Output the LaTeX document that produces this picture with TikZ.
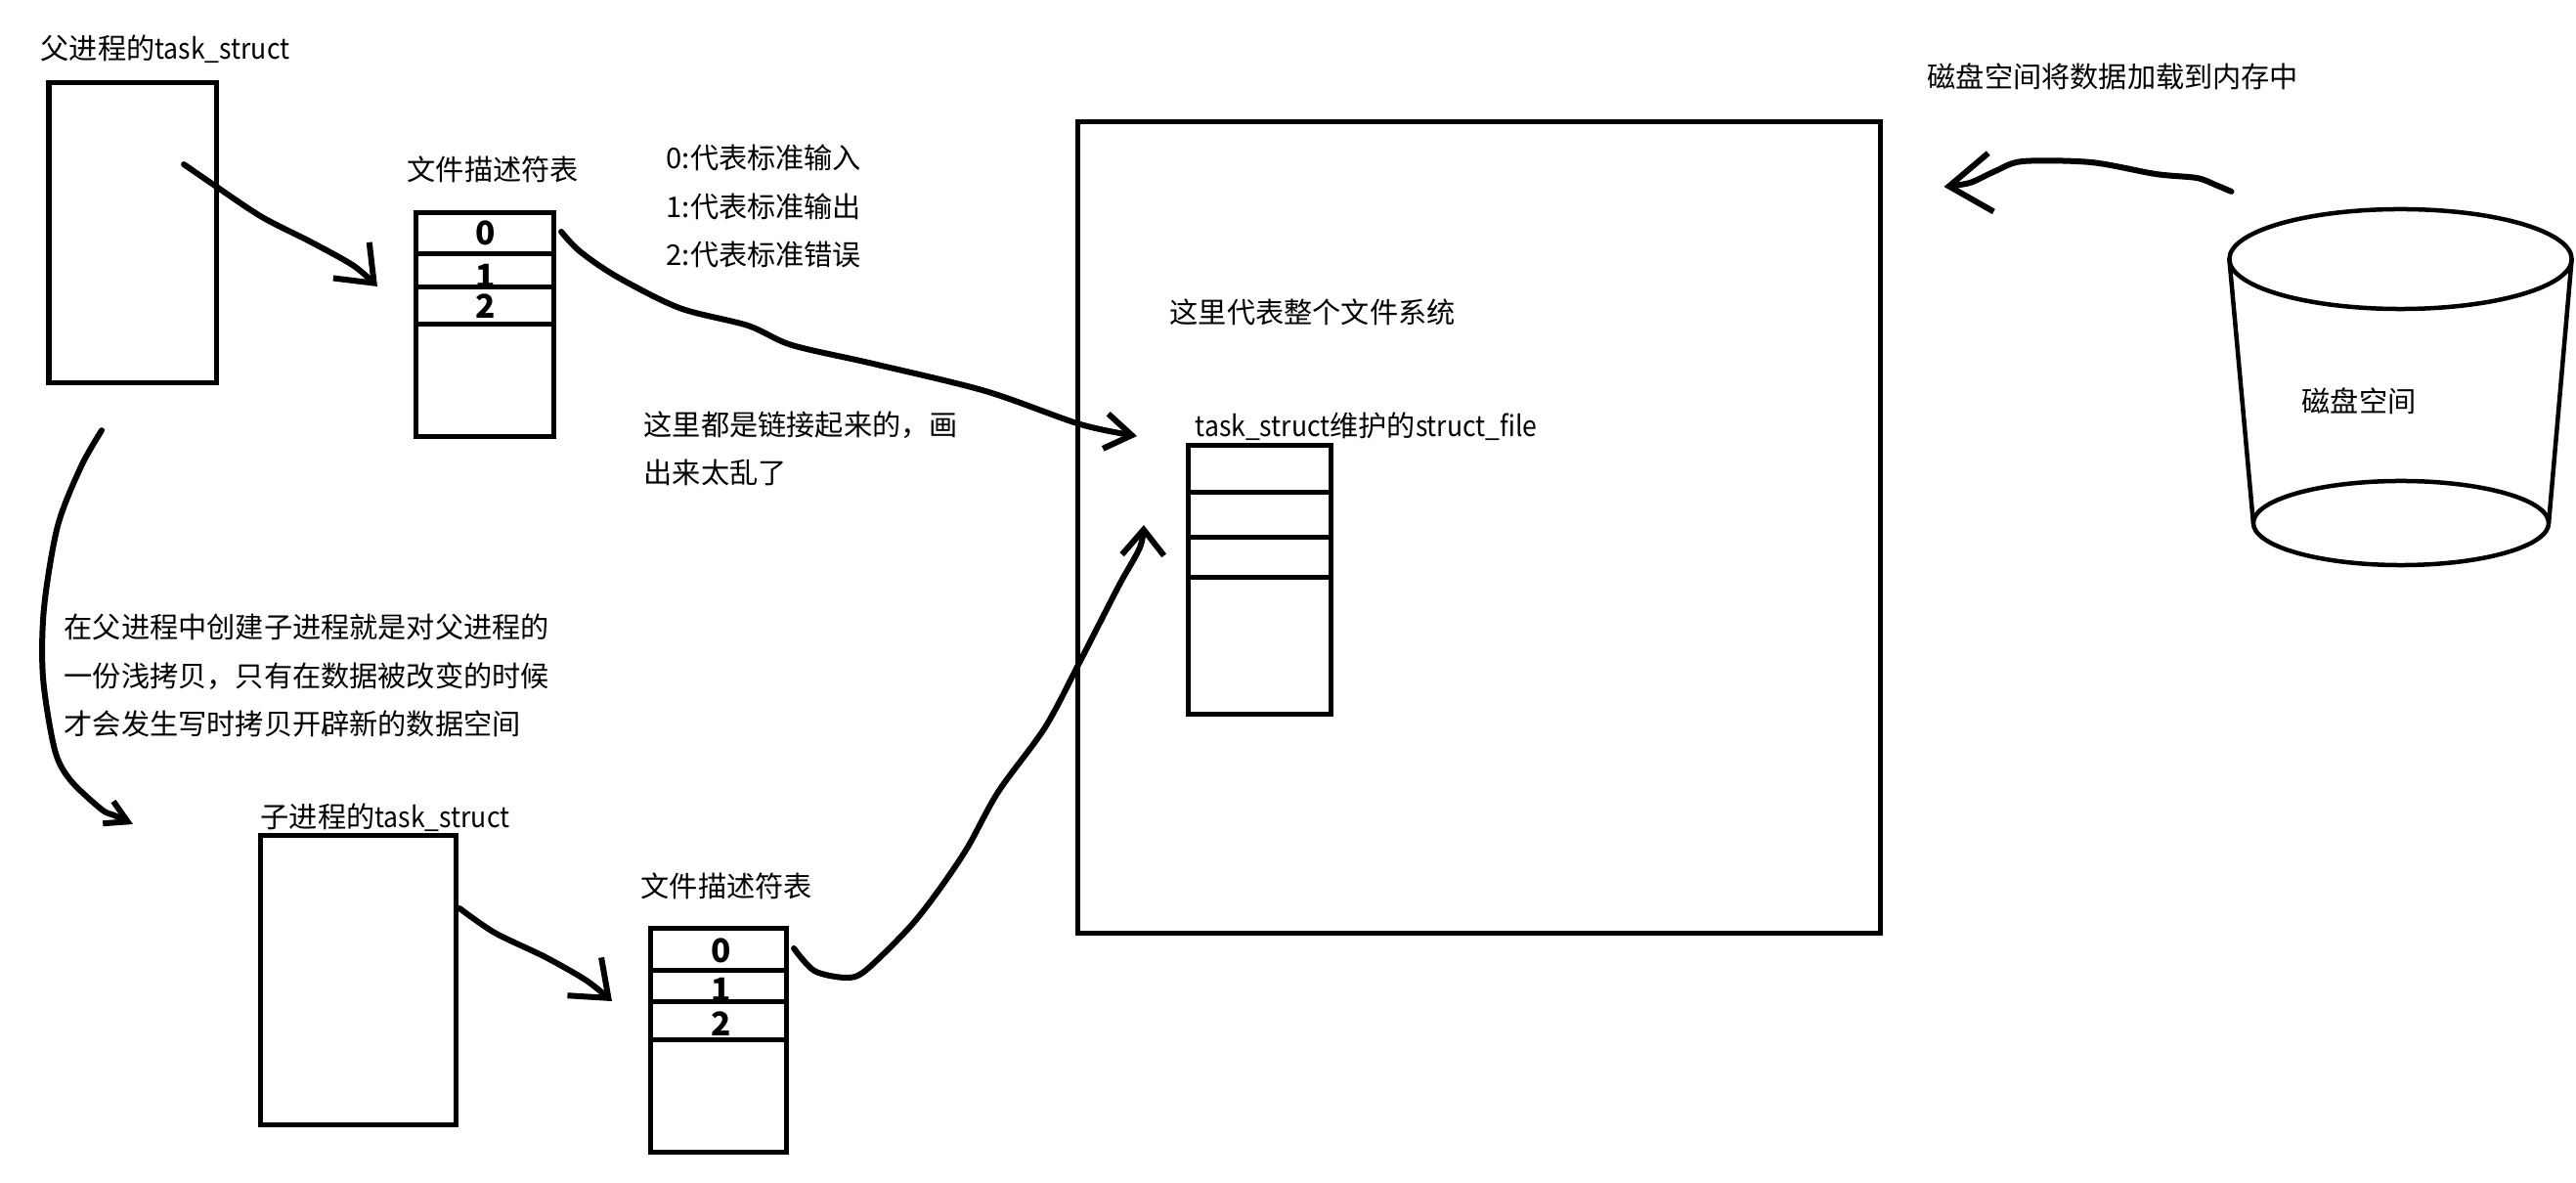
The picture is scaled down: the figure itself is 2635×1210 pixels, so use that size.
\documentclass[tikz,border=0pt]{standalone}
\usepackage{fontspec}
\setmainfont{Noto Sans CJK SC}
\newfontfamily\narrowlatin[FakeStretch=0.91]{Noto Sans CJK SC}
\usetikzlibrary{shapes.geometric, arrows.meta, positioning, calc}

\begin{document}
\begin{tikzpicture}[
  x=0.01cm, y=-0.01cm,
  note/.style={anchor=west, inner sep=0pt, align=left, font=\fontsize{8.3}{14}\selectfont},
  digit/.style={inner sep=0pt, font=\fontsize{9.5}{10}\selectfont\bfseries},
  block/.style={draw, line width=0.05cm, inner sep=0pt, outer sep=0pt, anchor=north west},
  row/.style={block, anchor=north},
  disc/.style={draw, ellipse, line width=0.045cm, inner sep=0pt, outer sep=0pt},
  link/.style 2 args={line width=0.06cm, line cap=round, line join=round, -{Straight Barb[length=#1,width=#2]}}
]
\path[use as bounding box] (0,0) rectangle (2635,1210);

\node[block, minimum width=1.71cm, minimum height=3.06cm] (parentbox) at (50,85) {};
\node[block, minimum width=2.00cm, minimum height=2.95cm] (childbox) at (266,855) {};
\node[block, minimum width=8.21cm, minimum height=8.29cm] (filesystem) at (1102,125) {};

\node[block, minimum width=1.41cm, minimum height=0.41cm] (rowAzero) at (425.5,218) {};
\node[row, minimum width=1.41cm, minimum height=0.34cm, below=0cm of rowAzero] (rowAone) {};
\node[row, minimum width=1.41cm, minimum height=0.38cm, below=0cm of rowAone] (rowAtwo) {};
\node[row, minimum width=1.41cm, minimum height=1.15cm, below=0cm of rowAtwo] (rowAfree) {};

\node[block, minimum width=1.39cm, minimum height=0.42cm] (rowBzero) at (665,950) {};
\node[row, minimum width=1.39cm, minimum height=0.32cm, below=0cm of rowBzero] (rowBone) {};
\node[row, minimum width=1.39cm, minimum height=0.39cm, below=0cm of rowBone] (rowBtwo) {};
\node[row, minimum width=1.39cm, minimum height=1.15cm, below=0cm of rowBtwo] (rowBfree) {};

\node[block, minimum width=1.46cm, minimum height=0.47cm] (rowCzero) at (1215,456) {};
\node[row, minimum width=1.46cm, minimum height=0.46cm, below=0cm of rowCzero] (rowCone) {};
\node[row, minimum width=1.46cm, minimum height=0.41cm, below=0cm of rowCone] (rowCtwo) {};
\node[row, minimum width=1.46cm, minimum height=1.40cm, below=0cm of rowCtwo] (rowCfree) {};

\node[digit] (digitAzero) at (497,238) {0};
\node[digit] (digitAone) at (497,282) {1};
\node[digit] (digitAtwo) at (497,313) {2};
\node[digit] (digitBzero) at (738,972) {0};
\node[digit] (digitBone) at (738,1012) {1};
\node[digit] (digitBtwo) at (738,1047) {2};

\node[disc, minimum width=3.50cm, minimum height=1.02cm] (disktop) at (2455.5,265) {};
\node[disc, minimum width=3.02cm, minimum height=0.86cm] (diskbottom) at (2456,535) {};
\draw[line width=0.045cm] (disktop.west) -- (diskbottom.west);
\draw[line width=0.045cm] (disktop.east) -- (diskbottom.east);

\node[note] (parentlabel) at (41,50) {父进程的{\narrowlatin task\_struct}};
\node[note] (fdlabelA) at (416,173) {文件描述符表};
\node[note] (fdmeaning) at (681,211) {0:代表标准输入\\1:代表标准输出\\2:代表标准错误};
\node[note] (linkednote) at (658,459) {这里都是链接起来的，画\\出来太乱了};
\node[note] (fslabel) at (1196,319) {这里代表整个文件系统};
\node[note] (filelabel) at (1222,436) {{\narrowlatin task\_struct}维护的{\narrowlatin struct\_file}};
\node[note] (forknote) at (65,691) {在父进程中创建子进程就是对父进程的\\一份浅拷贝，只有在数据被改变的时候\\才会发生写时拷贝开辟新的数据空间};
\node[note] (childlabel) at (266,836) {子进程的{\narrowlatin task\_struct}};
\node[note] (fdlabelB) at (655,906) {文件描述符表};
\node[note] (loadnote) at (1971,78) {磁盘空间将数据加载到内存中};
\node[note] (disklabel) at (2354,410) {磁盘空间};

\coordinate (parentout) at ($(parentbox.east)+(-33,-70)$);
\coordinate (fdAin) at ($(rowAone.west)+(-39.5,17)$);
\coordinate (fdAout) at ($(rowAzero.east)+(7.5,-1.5)$);
\coordinate (fileinA) at ($(rowCzero.west)+(-52,-33.5)$);
\coordinate (fdBout) at ($(rowBzero.east)+(8,-1)$);
\coordinate (fileinB) at ($(rowCtwo.west)+(-45,-32.5)$);
\coordinate (parentdown) at ($(parentbox.south)+(-31.5,49)$);
\coordinate (childin) at ($(childbox.north west)+(-130,-12)$);
\coordinate (childout) at ($(childbox.east)+(4,-73.5)$);
\coordinate (fdBin) at ($(rowBone.west)+(-39,16)$);
\coordinate (diskout) at ($(disktop.north)+(-173,-18)$);
\coordinate (fsin) at ($(filesystem.north east)+(65,66)$);

\draw[link={0.33cm}{0.52cm}] plot[smooth, tension=0.5] coordinates {(parentout) (220,190) (268,222) (319,248) (362,272) (fdAin)};
\draw[link={0.33cm}{0.52cm}] plot[smooth, tension=0.5] coordinates {(childout) (506,954) (558,979) (600,1003) (fdBin)};
\draw[link={0.27cm}{0.36cm}] plot[smooth, tension=0.5] coordinates {(fdAout) (593,257) (631,283) (695,315) (765,333) (810,353) (893,372) (1008,400) (1105,434) (fileinA)};
\draw[link={0.26cm}{0.43cm}] plot[smooth, tension=0.5] coordinates {(fdBout) (833,993) (865,1000) (885,993) (929,950) (957,915) (989,868) (1021,810) (1069,744) (1104,678) (1144,600) (1166,560) (fileinB)};
\draw[link={0.22cm}{0.25cm}] plot[smooth, tension=0.5] coordinates {(parentdown) (83,477) (59,538) (45,622) (44,693) (56,767) (72,798) (104,828) (117,834) (childin)};
\draw[link={0.43cm}{0.60cm}] plot[smooth, tension=0.5] coordinates {(diskout) (2266,189) (2247,182) (2205,178) (2139,166) (2069,165) (2041,175) (2015,187) (fsin)};
\end{tikzpicture}
\end{document}
